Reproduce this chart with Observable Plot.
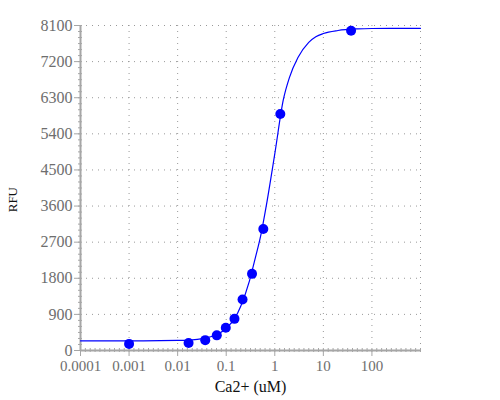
<!DOCTYPE html>
<html>
<head>
<meta charset="utf-8">
<script src="https://cdn.jsdelivr.net/npm/d3@7"></script>
<script src="https://cdn.jsdelivr.net/npm/@observablehq/plot@0.6"></script>
<style>
  html, body { margin: 0; padding: 0; background: #fff; }
</style>
</head>
<body>
<div id="chart"></div>
<script>
// Measured points
const xPoints = [0.001, 0.0168, 0.037, 0.064, 0.098, 0.148, 0.217, 0.34, 0.58, 1.3, 37.2];
const yPoints = [165, 188, 258, 377, 565, 789, 1270, 1910, 3030, 5894, 7968];

// Fitted curve
const xCurve = [0.0001, 0.001, 0.01, 0.02, 0.03, 0.05, 0.07, 0.1, 0.15, 0.2, 0.3, 0.4, 0.5, 0.7, 1, 1.5, 2, 3, 5, 7, 10, 20, 50, 100, 1000];
const yCurve = [240, 241, 250, 265, 288, 348, 420, 555, 800, 1110, 1730, 2320, 2800, 3750, 4900, 6250, 6800, 7300, 7680, 7820, 7900, 7975, 8015, 8025, 8030];

// Axis ticks
const xTicks = [0.0001, 0.001, 0.01, 0.1, 1, 10, 100];
const xTickLabels = ["0.0001", "0.001", "0.01", "0.1", "1", "10", "100"];
const xGrid = [0.001, 0.01, 0.1, 1, 10, 100, 1000];
const yTicks = [0, 900, 1800, 2700, 3600, 4500, 5400, 6300, 7200, 8100];
const yGrid = [900, 1800, 2700, 3600, 4500, 5400, 6300, 7200, 8100];

const xMinor = d3.range(0, 71).map(k => Math.pow(10, -4 + k / 10));
const yMinor = d3.range(0, 8101, 150);

const points = xPoints.map((x, i) => ({x, y: yPoints[i]}));
const curve = xCurve.map((x, i) => ({x, y: yCurve[i]}));
const xLabelFor = d => {
  const i = xTicks.findIndex(t => Math.abs(Math.log10(t) - Math.log10(d)) < 1e-6);
  return i >= 0 ? xTickLabels[i] : "";
};

const axisGray = "#a6a6a6";
const labelGray = "#6e6e6e";
const serif = "Liberation Serif, Times New Roman, serif";

const chart = Plot.plot({
  width: 500,
  height: 400,
  marginLeft: 80,
  marginRight: 80,
  marginTop: 25,
  marginBottom: 50,
  style: {fontFamily: serif, background: "#fff"},
  x: {type: "log", domain: [1e-4, 1000]},
  y: {domain: [0, 8100]},
  marks: [
    Plot.gridY(yGrid, {stroke: "#999", strokeOpacity: 1, strokeDasharray: "1,5"}),
    Plot.gridX(xGrid, {stroke: "#999", strokeOpacity: 1, strokeDasharray: "1,5"}),
    // minor ticks
    Plot.axisX(xMinor, {tickSize: 4, dy: -2, tickFormat: () => "", stroke: axisGray, label: null}),
    Plot.axisY(yMinor, {tickSize: 4, dx: 2, tickFormat: () => "", stroke: axisGray, label: null}),
    // major axes
    Plot.axisX(xTicks, {
      tickSize: 6, tickPadding: 4, tickFormat: xLabelFor,
      stroke: axisGray, fill: labelGray, fontSize: 15, label: null
    }),
    Plot.axisY(yTicks, {
      tickSize: 6, tickPadding: 2, tickFormat: d => String(d),
      stroke: axisGray, fill: labelGray, fontSize: 16, label: null
    }),
    Plot.ruleY([0], {stroke: axisGray, strokeWidth: 2}),
    Plot.ruleX([1e-4], {stroke: axisGray, strokeWidth: 2}),
    // curve and data
    Plot.line(curve, {x: "x", y: "y", stroke: "#0000ff", strokeWidth: 1.2, curve: "monotone-x"}),
    Plot.dot(points, {x: "x", y: "y", r: 5, fill: "#0000ff", stroke: "none"}),
    // axis titles
    Plot.text(["Ca2+ (uM)"], {frameAnchor: "bottom", dy: 41, fontSize: 16, fill: "#111", fontFamily: serif}),
    Plot.text(["RFU"], {x: [1e-4], y: [3760], dx: -68, rotate: -90, fontSize: 13, fill: "#111", fontFamily: serif})
  ]
});
document.getElementById("chart").appendChild(chart);
</script>
</body>
</html>
